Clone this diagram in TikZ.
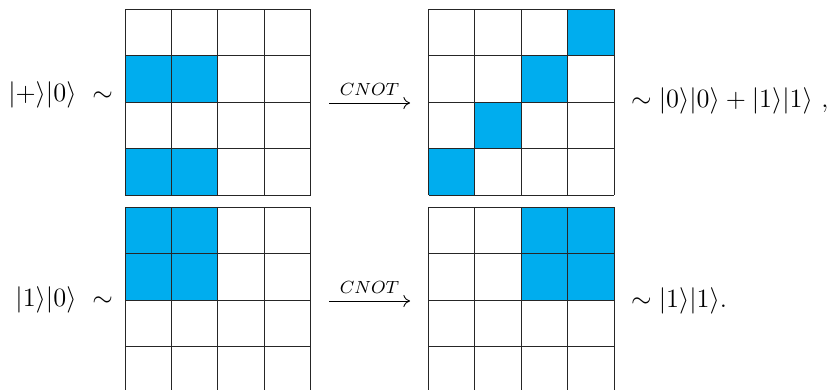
\documentclass[tikz,border=0pt]{standalone}
\usepackage{amsmath}
\usetikzlibrary{arrows.meta,calc}
\definecolor{cellblue}{HTML}{00ADEE}
\tikzset{
  gridline/.style={draw=black!85, line width=0.4pt},
  filled/.style={fill=cellblue},
  lbl/.style={inner sep=0pt, outer sep=0pt, font=\large},
  cnotarrow/.style={-{To[length=3pt,width=5.5pt]}, line width=0.4pt},
  cnotlabel/.style={above=0pt, font=\large}
}
\newcommand{\cellsize}{46.4}
\begin{document}
\begin{tikzpicture}[x=0.4545pt,y=-0.4545pt]
\clip (0,0) rectangle (833,390);
% grid origins
\coordinate (A) at (125,9.5);
\coordinate (B) at (428.5,9.5);
\coordinate (C) at (125,207.5);
\coordinate (D) at (428.5,207.5);
% fills
\foreach \g/\c/\r in {A/0/1,A/1/1,A/0/3,A/1/3,
                      B/3/0,B/2/1,B/1/2,B/0/3,
                      C/0/0,C/1/0,C/0/1,C/1/1,
                      D/2/0,D/3/0,D/2/1,D/3/1}{
  \fill[filled] ($(\g)+(\c*\cellsize,\r*\cellsize)$) rectangle ++(\cellsize,\cellsize);
}
% grid lines
\foreach \g in {A,B,C,D}{
  \foreach \i in {0,...,4}{
    \draw[gridline] ($(\g)+(\i*\cellsize,0)$) -- ++(0,4*\cellsize);
    \draw[gridline] ($(\g)+(0,\i*\cellsize)$) -- ++(4*\cellsize,0);
  }
}
% texts
\node[lbl, anchor=east] (t1) at (113,95) {$|+\rangle|0\rangle\ \sim$};
\node[lbl, anchor=west] (t2) at (631,101) {$\sim|0\rangle|0\rangle+|1\rangle|1\rangle\ ,$};
\node[lbl, anchor=east] (t3) at (113,300) {$|1\rangle|0\rangle\ \sim$};
\node[lbl, anchor=west] (t4) at (631,301) {$\sim|1\rangle|1\rangle.$};
% arrows
\coordinate (a1s) at (329,103);
\coordinate (a1e) at (410,103);
\coordinate (a2s) at (329,301);
\coordinate (a2e) at (410,301);
\draw[cnotarrow] (a1s) -- node[cnotlabel]{$\scriptstyle CNOT$} (a1e);
\draw[cnotarrow] (a2s) -- node[cnotlabel]{$\scriptstyle CNOT$} (a2e);
\end{tikzpicture}
\end{document}
